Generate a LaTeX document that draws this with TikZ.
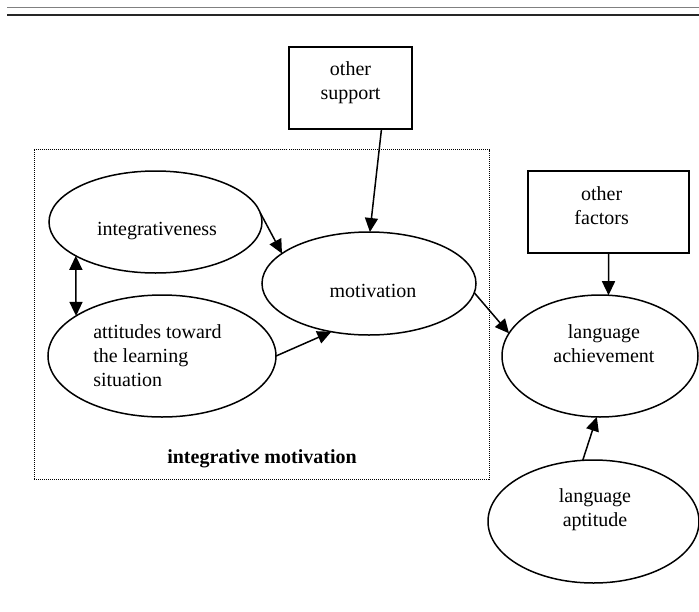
\documentclass[tikz,border=0pt]{standalone}
\usepackage{fontspec}
\setmainfont{Liberation Serif}
\usetikzlibrary{shapes.geometric,arrows.meta,calc}

\tikzset{
  oval/.style={draw, ellipse, line width=1.5pt, inner sep=0, outer sep=0},
  tbox/.style={draw, rectangle, line width=1.5pt, inner sep=0, outer sep=0},
  txt/.style={inner sep=0, outer sep=0, align=center, font=\fontsize{20}{24}\selectfont},
  arr/.style={line width=1.5pt, -{Triangle[length=14pt,width=13pt]}},
  darr/.style={line width=1.5pt, {Triangle[length=14pt,width=13pt]}-{Triangle[length=14pt,width=13pt]}}
}

\begin{document}
\begin{tikzpicture}[x=1pt,y=-1pt]
  \useasboundingbox (0,0) rectangle (699,611);
  % rules at the top of the page
  \draw [gray, line width=1pt] (7,7.5) -- (699,7.5);
  \draw [black!85, line width=1.6pt] (7,15) -- (699,15);

  % group frame
  \node [draw, dash pattern=on 1pt off 1pt, line width=1pt, inner sep=0,
         minimum width=455pt, minimum height=329.5pt] (grp) at (261.5,314.25) {};
  \node [txt, anchor=base, font=\fontsize{20}{24}\selectfont\bfseries] (grplbl) at (262,463) {integrative motivation};

  % ovals
  \node [oval, minimum width=213pt, minimum height=102pt] (integ) at (155.5,222) {};
  \node [oval, minimum width=214pt, minimum height=103pt] (mot) at (369,283.5) {};
  \node [oval, minimum width=228pt, minimum height=122pt] (att) at (162,356) {};
  \node [oval, minimum width=196pt, minimum height=122pt] (ach) at (600,356) {};
  \node [oval, minimum width=211pt, minimum height=123pt] (apt) at (593.5,521.5) {};

  % boxes
  \node [tbox, minimum width=123pt, minimum height=82pt] (sup) at (350.5,88) {};
  \node [tbox, minimum width=161pt, minimum height=82pt] (fac) at (608.5,212) {};

  % texts
  \node [txt, anchor=base] (integtxt) at (157,235) {integrativeness};
  \node [txt, anchor=base] (mottxt) at (373,297) {motivation};
  \node [txt, anchor=north west, align=left] (atttxt) at (93.3,324.6) {attitudes toward\\the learning\\situation};
  \node [txt, anchor=north] (achtxt) at (604,325) {language\\achievement};
  \node [txt, anchor=north] (apttxt) at (595,489) {language\\aptitude};
  \node [txt, anchor=north] (suptxt) at (350.5,61.3) {other\\support};
  \node [txt, anchor=north] (factxt) at (601.7,186.3) {other\\factors};

  % arrows
  \draw [arr] ([xshift=31pt]sup.south) -- (mot.89);
  \draw [arr] (fac.south) -- (ach.82);
  \draw [arr] (integ.5) -- (mot.161);
  \draw [darr] (integ.203) -- (att.155);
  \draw [arr] (att.0) -- (mot.232);
  \draw [arr] (mot.-5) -- (ach.166);
  \draw [arr] (apt.100) -- (ach.267);
\end{tikzpicture}
\end{document}
